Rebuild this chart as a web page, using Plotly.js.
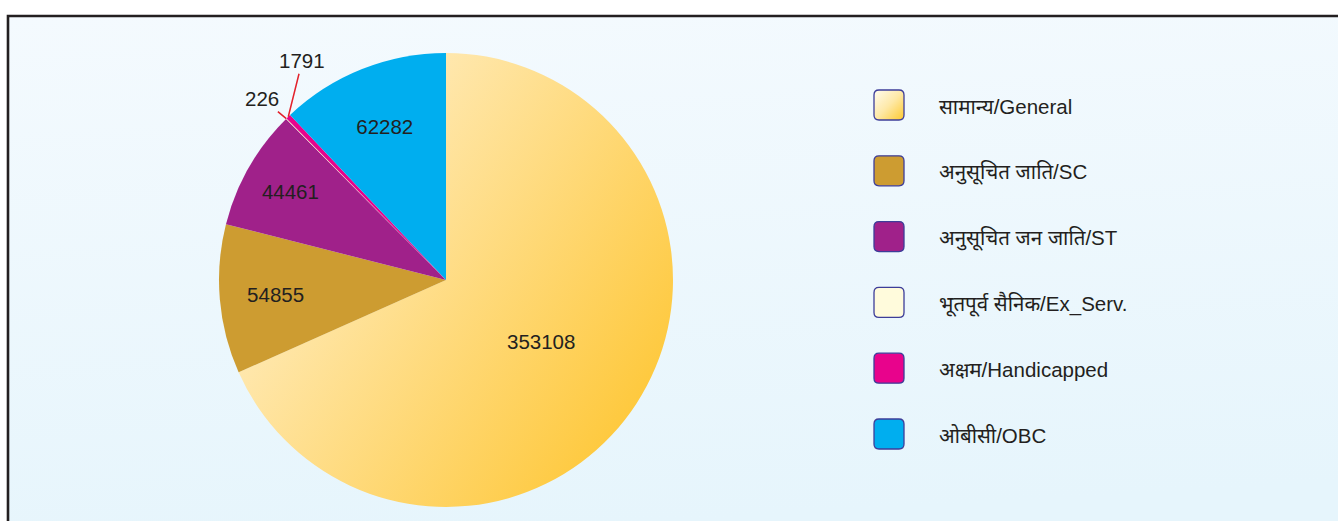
<!DOCTYPE html>
<html><head><meta charset="utf-8">
<script src="https://cdn.plot.ly/plotly-3.0.1.min.js"></script>
<style>html,body{margin:0;padding:0;background:#fff}#chart{width:1338px;height:521px}</style>
</head><body><div id="chart"></div>
<script>
// ---- data ----
const categories = ['सामान्य/General', 'अनुसूचित जाति/SC', 'अनुसूचित जन जाति/ST', 'भूतपूर्व सैनिक/Ex_Serv.', 'अक्षम/Handicapped', 'ओबीसी/OBC'];
const values = [353108, 54855, 44461, 226, 1791, 62282];
const sliceColors = ['#fee2a0', '#cd9c31', '#a0218a', '#fdeec6', '#e8038c', '#00aeef'];
const legendColors = ['#fee2a0', '#cd9c31', '#a0218a', '#fffbdc', '#e8038c', '#00aeef'];
const textPositions = ['inside', 'inside', 'inside', 'none', 'none', 'inside'];

// ---- geometry / style ----
const W = 1338, H = 521;
const CX = 446, CY = 280, R = 227;
const FONT = 'Liberation Sans, Arial, Noto Sans, sans-serif';
const TXT = '#231f20';
const FS = 20.5;
const px = x => x / W, py = y => 1 - y / H;

const data = [{
  type: 'pie',
  labels: categories,
  values: values,
  sort: false,
  direction: 'clockwise',
  rotation: 0,
  marker: {colors: sliceColors, line: {width: 0}},
  textposition: textPositions,
  texttemplate: '%{value:d}',
  insidetextorientation: 'horizontal',
  textfont: {family: FONT, size: FS, color: TXT},
  domain: {x: [px(CX - R), px(CX + R)], y: [py(CY + R), py(CY - R)]},
  hoverinfo: 'label+value',
  showlegend: false
}];

// outside labels (leader lines) for tiny slices, tip computed from the data
const total = values.reduce((a, b) => a + b, 0);
const outsideOffsets = {3: [-24, -20], 4: [14, -56]};
const annotations = [];
let cum = 0;
values.forEach((v, i) => {
  const mid = (cum + v / 2) / total * 2 * Math.PI;
  cum += v;
  if (textPositions[i] === 'none') {
    const tx = CX + R * Math.sin(mid), ty = CY - R * Math.cos(mid);
    const off = outsideOffsets[i];
    annotations.push({
      xref: 'paper', yref: 'paper', x: px(tx), y: py(ty),
      ax: off[0], ay: off[1], showarrow: true, arrowhead: 0, arrowwidth: 1.5,
      arrowcolor: '#e3212b', standoff: 0,
      text: String(values[i]), font: {family: FONT, size: FS, color: TXT}
    });
  }
});

// custom legend with rounded square markers
const shapes = [{
  type: 'rect', xref: 'paper', yref: 'paper', layer: 'below',
  x0: px(8), x1: 1.05, y0: -0.05, y1: py(16),
  fillcolor: '#eef8fd', line: {color: '#231f20', width: 2.6}
}];
const LX = 874, LS = 30, LY0 = 105, LDY = 65.8, RC = 5;
categories.forEach((c, i) => {
  const yc = LY0 + i * LDY;
  const x0 = LX, x1 = LX + LS, y0 = yc - LS / 2, y1 = yc + LS / 2;
  const p = (x, y) => px(x) + ',' + py(y);
  const path = 'M' + p(x0 + RC, y0) + ' L' + p(x1 - RC, y0) + ' Q' + p(x1, y0) + ' ' + p(x1, y0 + RC) +
    ' L' + p(x1, y1 - RC) + ' Q' + p(x1, y1) + ' ' + p(x1 - RC, y1) +
    ' L' + p(x0 + RC, y1) + ' Q' + p(x0, y1) + ' ' + p(x0, y1 - RC) +
    ' L' + p(x0, y0 + RC) + ' Q' + p(x0, y0) + ' ' + p(x0 + RC, y0) + ' Z';
  shapes.push({type: 'path', xref: 'paper', yref: 'paper', layer: 'below', path: path,
    fillcolor: legendColors[i], line: {color: '#3d3d99', width: 1.3}});
  annotations.push({xref: 'paper', yref: 'paper', x: px(937), y: py(yc + 1.5), xanchor: 'left', yanchor: 'middle',
    showarrow: false, text: c, font: {family: FONT, size: FS, color: TXT}});
});

const layout = {
  width: W, height: H,
  margin: {l: 0, r: 0, t: 0, b: 0, pad: 0},
  paper_bgcolor: '#ffffff',
  showlegend: false,
  shapes: shapes,
  annotations: annotations
};

function grad(defs, id, x1, y1, x2, y2, stops) {
  const NS = 'http://www.w3.org/2000/svg';
  const g = document.createElementNS(NS, 'linearGradient');
  g.setAttribute('id', id);
  g.setAttribute('x1', x1); g.setAttribute('y1', y1); g.setAttribute('x2', x2); g.setAttribute('y2', y2);
  stops.forEach(s => {
    const st = document.createElementNS(NS, 'stop');
    st.setAttribute('offset', s[0]); st.setAttribute('stop-color', s[1]);
    g.appendChild(st);
  });
  defs.appendChild(g);
}

Plotly.newPlot('chart', data, layout, {staticPlot: true}).then(gd => {
  const svg = gd.querySelector('svg.main-svg');
  let defs = svg.querySelector('defs');
  if (!defs) { defs = document.createElementNS('http://www.w3.org/2000/svg', 'defs'); svg.insertBefore(defs, svg.firstChild); }
  grad(defs, 'gGen', 0, 0.15, 1, 0.85, [[0, '#fff3d8'], [1, '#fec52f']]);
  grad(defs, 'gLeg', 0, 0, 1, 1, [[0, '#fffcf0'], [0.5, '#fee9a8'], [1, '#fec92e']]);
  grad(defs, 'gBg', 0, 0, 0.15, 1, [[0, '#f4fafe'], [1, '#e6f5fc']]);
  const slice = gd.querySelector('.pielayer .slice path.surface');
  if (slice) slice.style.fill = 'url(#gGen)';
  const frame = gd.querySelector('.shapelayer path[data-index="0"]');
  if (frame) frame.style.fill = 'url(#gBg)';
  const leg = gd.querySelector('.shapelayer path[data-index="1"]');
  if (leg) leg.style.fill = 'url(#gLeg)';
});
</script>
</body></html>
